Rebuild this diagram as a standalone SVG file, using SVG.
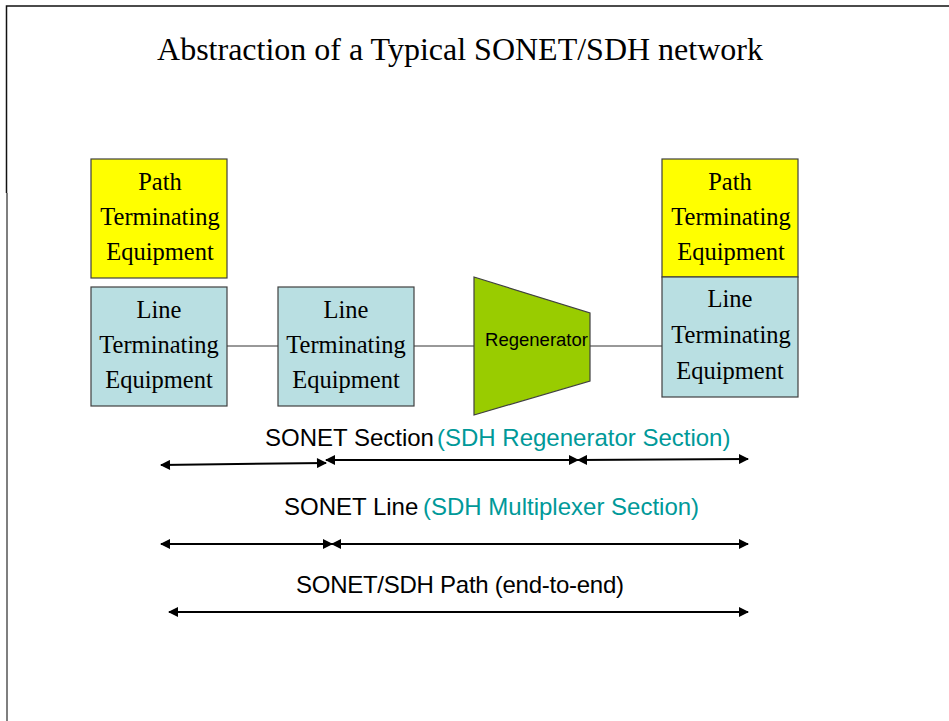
<svg xmlns="http://www.w3.org/2000/svg" width="949" height="721" viewBox="0 0 949 721">
<style>
.box{stroke:#404040;stroke-width:1.2}
.pte{fill:#FFFF00}
.lte{fill:#B9DFE2}
.serif{font-family:"Liberation Serif","Times New Roman",serif;fill:#000}
.bt{font-size:24.5px;text-anchor:middle}
.sans{font-family:"Liberation Sans",Arial,sans-serif}
.lbl{font-size:24px}
.teal{fill:#009999}
.conn{stroke:#333;stroke-width:1;fill:none}
.arr{stroke:#000;stroke-width:2;fill:none;marker-start:url(#ah);marker-end:url(#ah)}
</style>
<defs>
<marker id="ah" viewBox="0 0 10 10" refX="9" refY="5" markerWidth="5.5" markerHeight="5" orient="auto-start-reverse" markerUnits="strokeWidth">
<path d="M0,0 L10,5 L0,10 Z" fill="#000"/>
</marker>
</defs>
<rect width="949" height="721" fill="#fff"/>
<g id="frame">
<polyline points="949,6 6.5,6 6.5,193" fill="none" stroke="#111" stroke-width="1.5"/>
<line x1="7" y1="193" x2="7" y2="721" stroke="#555" stroke-width="1.5"/>
</g>
<text x="460" y="60" class="serif" font-size="32" text-anchor="middle">Abstraction of a Typical SONET/SDH network</text>
<g id="connectors">
<line class="conn" x1="227" y1="346" x2="278" y2="346"/>
<line class="conn" x1="414" y1="346" x2="474" y2="346"/>
<line class="conn" x1="590" y1="346" x2="662" y2="346"/>
</g>
<g id="pte-left">
<rect class="box pte" x="91" y="159" width="136" height="119"/>
<text class="serif bt" x="160" y="190">Path</text>
<text class="serif bt" x="160" y="225">Terminating</text>
<text class="serif bt" x="160" y="260">Equipment</text>
</g>
<g id="lte-left">
<rect class="box lte" x="91" y="287" width="136" height="119"/>
<text class="serif bt" x="159" y="318">Line</text>
<text class="serif bt" x="159" y="353">Terminating</text>
<text class="serif bt" x="159" y="388">Equipment</text>
</g>
<g id="lte-middle">
<rect class="box lte" x="278" y="287" width="136" height="119"/>
<text class="serif bt" x="346" y="318">Line</text>
<text class="serif bt" x="346" y="353">Terminating</text>
<text class="serif bt" x="346" y="388">Equipment</text>
</g>
<g id="regenerator">
<polygon class="box" fill="#99CC00" points="474,277 590,313 590,381 474,415"/>
<text class="sans" x="536.5" y="346" font-size="18.5" text-anchor="middle" fill="#000">Regenerator</text>
</g>
<g id="pte-right">
<rect class="box pte" x="662" y="159" width="136" height="118"/>
<text class="serif bt" x="730" y="190">Path</text>
<text class="serif bt" x="731" y="225">Terminating</text>
<text class="serif bt" x="731" y="260">Equipment</text>
</g>
<g id="lte-right">
<rect class="box lte" x="662" y="277" width="136" height="120"/>
<text class="serif bt" x="730" y="307">Line</text>
<text class="serif bt" x="731" y="343">Terminating</text>
<text class="serif bt" x="730" y="379">Equipment</text>
</g>
<g id="spans">
<line class="arr" x1="161" y1="465" x2="326" y2="463"/>
<line class="arr" x1="326" y1="460" x2="578" y2="460"/>
<line class="arr" x1="578" y1="460" x2="748" y2="459"/>
<line class="arr" x1="161" y1="544" x2="332" y2="544"/>
<line class="arr" x1="332" y1="544" x2="748" y2="544"/>
<line class="arr" x1="169" y1="612" x2="748" y2="612"/>
</g>
<g id="labels">
<text class="sans lbl" x="265" y="446" fill="#000">SONET Section</text>
<text class="sans lbl teal" x="437" y="446">(SDH Regenerator Section)</text>
<text class="sans lbl" x="284" y="515" fill="#000">SONET Line</text>
<text class="sans lbl teal" x="423" y="515">(SDH Multiplexer Section)</text>
<text class="sans lbl" x="296" y="593" fill="#000" textLength="328" lengthAdjust="spacing">SONET/SDH Path (end-to-end)</text>
</g>
</svg>
